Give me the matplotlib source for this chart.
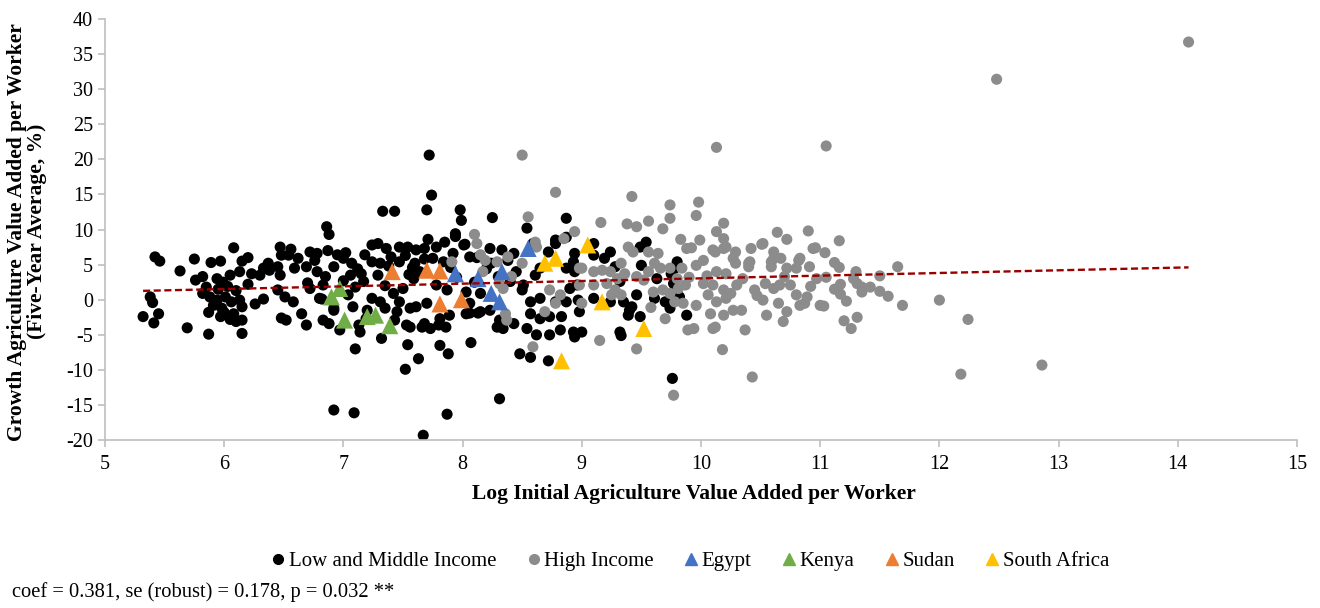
import numpy as np
import matplotlib
matplotlib.use('Agg')
import matplotlib.pyplot as plt
from matplotlib.lines import Line2D

plt.rcParams['font.family'] = ['Liberation Serif', 'DejaVu Serif']
plt.rcParams['axes.unicode_minus'] = False

# Low and middle income observations (log initial VA per worker, growth %)
lmi_x = [5.32, 5.38, 5.40, 5.45, 5.41, 5.42, 5.46, 5.63, 5.69, 5.75, 5.89, 5.97, 6.08, 6.15, 6.20,
         6.47, 6.56, 6.48, 6.54, 6.72, 6.78, 6.76, 6.86, 6.88, 6.87, 7.00,
         5.87, 5.87, 6.15, 6.10, 6.15, 6.26, 6.33, 6.48, 6.52, 6.65, 6.69, 6.83, 6.88, 6.97, 6.82, 6.92,
         5.76, 5.82, 5.94, 5.99, 6.05, 6.13, 6.23, 6.30, 6.37, 6.38, 6.33, 6.45, 6.47, 6.59,
         5.82, 5.88, 5.94, 6.01, 5.91, 5.98, 6.06, 6.13, 6.08, 6.15, 6.45, 6.51, 6.58,
         5.85, 5.95, 6.03, 6.10, 6.20, 6.00, 5.97, 6.05,
         7.07, 7.24, 7.29, 7.36, 7.47, 7.54, 7.61, 7.68,
         6.69, 6.78, 6.85, 6.92, 7.06, 7.15, 7.24, 7.31, 7.29, 7.47, 7.60, 7.59, 7.64,
         6.72, 6.83, 6.80, 6.92, 7.04, 7.08, 7.17, 7.24, 7.31, 7.42, 7.47, 7.45, 7.56, 7.61, 7.70,
         7.13, 7.19, 7.43, 7.53, 7.66, 7.14,
         7.72, 7.74, 7.33, 7.43, 7.70, 7.98, 7.99, 8.25, 8.87, 8.54, 7.94, 7.71, 8.02, 8.78, 8.87, 7.78,
         7.10, 7.32, 7.52, 7.63, 7.54, 7.81, 7.88, 8.07, 7.09, 6.92, 7.87, 7.67, 8.31, 8.48, 8.57, 8.72,
         8.62, 8.73, 8.93, 8.94, 8.43, 8.29, 8.34, 7.68, 7.73, 7.56, 7.81, 7.86, 8.06, 8.13, 9.76,
         7.85, 8.01, 7.94, 8.23, 8.33, 8.43, 7.75, 7.84, 8.06, 8.24, 8.45, 7.78, 7.87, 8.03, 8.15,
         8.06, 7.89, 8.03, 8.15, 8.23, 8.31, 8.50, 8.57, 8.65, 8.57, 8.65, 8.73, 8.78, 8.54, 7.80,
         8.51, 8.61, 8.65, 8.72, 8.78, 8.59,
         7.95, 8.10, 8.30, 8.40, 7.90, 8.20, 7.10, 7.35, 7.50, 7.55, 7.00, 7.20, 7.35,
         7.18, 7.40, 7.52, 7.12, 7.68, 7.92, 8.12, 8.38, 7.02, 6.95, 6.62, 6.70, 7.38, 7.58,
         9.10, 8.94, 8.93, 8.87, 8.94, 9.10, 9.24, 9.19, 9.28, 9.50, 9.54, 9.49, 9.80, 9.78, 9.63,
         9.32, 8.90, 8.96, 8.87, 8.97, 8.98, 9.10, 9.24, 9.35, 9.42, 9.46, 9.39, 9.49, 8.83, 9.88,
         9.61, 9.70, 9.74, 9.32, 8.82, 9.75, 9.77, 9.82, 9.40, 9.33, 9.00]
lmi_y = [-2.4, 0.4, -0.4, -2.0, -3.3, 6.1, 5.5, 4.1, -4.0, 5.8, 5.3, 5.5, 7.4, 5.5, 6.0,
         7.5, 7.2, 6.35, 6.35, 6.8, 6.6, 5.6, 10.4, 9.3, 7.0, 5.9,
         -1.8, -4.9, -4.8, -3.1, -2.9, -0.6, 0.1, -2.6, -2.9, -2.0, -3.6, -2.9, -3.4, -4.3, 0.1, -1.5,
         2.8, 3.3, 3.0, 2.5, 3.5, 4.0, 3.7, 3.5, 5.2, 4.2, 4.5, 4.7, 3.5, 4.5,
         0.9, 0.4, -0.05, 0.4, -0.8, -1.2, -0.3, -0.05, -2.0, -1.0, 1.4, 0.4, -0.3,
         1.8, 1.5, 1.9, 1.3, 2.2, -1.8, -2.4, -2.8,
         5.2, 7.8, 8.0, 7.3, 7.5, 7.5, 7.1, 7.3,
         4.7, 4.0, 3.3, 4.7, 3.5, 3.7, 5.4, 5.2, 3.5, 5.4, 5.2, 3.0, 4.0,
         1.6, 2.1, 0.2, -1.2, 0.7, -1.0, 2.6, 0.2, -0.3, 0.9, -0.3, -1.7, -1.2, -1.0, -0.5,
         -3.6, -2.7, -2.9, -3.6, -3.9, -4.6,
         20.6, 14.9, 12.6, 12.6, 12.8, 12.8, 11.3, 11.7, 11.6, 10.2, 9.4, 8.6, 7.9, 8.5, 8.9, 7.5,
         -7.0, -5.5, -9.9, -8.4, -6.4, -6.5, -7.7, -6.1, -16.1, -15.7, -16.3, -19.3, -14.1, -7.7, -8.2, -8.7,
         -5.0, -5.0, -4.6, -5.3, -3.4, -3.9, -4.1, -3.4, -4.1, -3.9, -2.7, -3.9, -1.9, -1.9, -11.2,
         8.2, 7.8, 9.0, 7.3, 7.1, 6.6, 5.9, 5.4, 6.1, 5.2, 4.0, 2.1, 1.4, 1.1, 0.9,
         -0.5, -2.2, -2.0, -1.7, -1.5, -2.9, 1.4, -0.3, 0.2, -2.0, -2.7, -2.4, -0.3, -4.1, -3.6,
         2.1, 3.5, 4.5, 6.8, 8.0, 8.0,
         3.2, 2.5, 3.3, 2.6, 4.6, 4.4, 1.8, 2.0, 1.6, 3.6, 2.7, -1.5, -1.2,
         6.4, 6.1, 6.3, 4.4, 5.8, 6.6, 6.0, 5.6, 6.7, 6.4, 5.9, 2.4, 4.8, 4.6,
         8.0, 6.6, 5.4, 4.5, 4.0, 6.35, 6.8, 5.9, 4.7, 4.9, 8.2, 7.5, 5.4, 4.5, 3.0,
         2.6, 1.6, 2.1, -0.3, -0.05, -1.7, 0.2, -0.3, -0.3, -1.0, 0.7, -2.2, -2.4, -2.4, -2.2,
         0.2, -0.3, -1.2, -4.6, -4.3, 3.7, 2.3, 0.4, -1.5, -5.1, -4.6]

# High income observations
hi_x = [8.10, 8.12, 8.55, 8.78, 8.50, 8.94, 7.91, 8.15, 8.19, 8.29, 8.38, 8.50, 8.61, 8.62, 8.41,
        8.31, 8.36, 8.37, 8.73, 8.82, 8.78, 8.98, 9.00, 8.59, 8.17, 8.34, 8.69, 8.85,
        9.42, 9.74, 9.74, 9.68, 9.98, 9.96, 9.16, 9.38, 9.46, 9.56, 10.19, 10.13, 10.19, 10.64,
        10.72, 10.90, 10.96, 11.04, 9.83, 9.99, 9.92, 10.51, 10.42, 10.10, 10.21, 10.29, 9.39,
        9.43, 9.56, 9.64, 9.96, 10.02, 10.29, 10.40, 10.61, 10.59, 10.72, 10.82,
        9.70, 9.89, 10.10, 10.37, 10.69, 9.15, 9.46, 10.18, 10.43, 9.77, 10.13, 11.05, 12.48, 14.09,
        11.16, 11.12, 11.16, 11.65, 11.05, 11.30, 11.28, 11.31, 11.50, 11.35, 11.42, 11.17, 11.12,
        11.17, 11.35, 11.50, 11.57, 11.22, 11.03, 11.69, 12.00, 12.24, 11.20, 11.31, 11.26, 12.18, 12.86,
        9.88, 9.00, 9.10, 9.17, 9.24, 9.33, 9.36, 9.46, 9.56, 9.61, 9.66, 9.74, 9.84, 9.80,
        8.98, 9.10, 9.21, 9.28, 9.33, 9.25, 9.60, 9.68, 9.74, 9.81, 9.87, 9.78, 9.85,
        10.19, 10.12, 10.27, 10.52, 10.61, 10.83, 10.94, 10.13, 10.21, 10.41, 10.40, 10.59, 10.67,
        10.80, 10.91, 10.97,
        10.02, 10.10, 10.19, 10.30, 10.45, 10.54, 10.61, 10.66, 10.75, 10.80, 10.89, 9.96, 10.06,
        10.13, 10.21, 10.27, 10.08, 10.19, 10.34, 10.52, 10.55, 10.65, 10.72, 10.83, 10.87, 10.12,
        9.94, 11.00,
        9.52, 9.90, 10.35, 10.47, 10.05, 9.30, 10.70, 10.25, 9.58, 10.92]
hi_y = [9.3, 8.0, 11.8, 15.3, 20.6, 9.7, 5.4, 6.4, 5.6, 5.4, 6.1, 5.2, 8.2, 7.5, 3.3,
        2.3, -2.0, -2.9, 1.4, 0.7, -0.5, 4.5, -0.5, -6.7, 4.0, 1.6, -1.7, 8.7,
        14.7, 13.5, 11.6, 10.1, 13.9, 12.0, 11.0, 10.8, 10.4, 11.2, 10.9, 9.7, 8.7, 9.6,
        8.6, 9.8, 7.4, 6.7, 8.6, 8.5, 7.4, 7.9, 7.3, 7.1, 7.5, 6.8, 7.5,
        6.8, 6.8, 6.6, 4.9, 5.6, 5.2, 5.2, 5.9, 4.7, 4.5, 5.6,
        -2.7, -4.3, -4.1, -4.3, -3.1, -5.8, -7.0, -7.1, -11.0, -13.6, 21.7, 21.9, 31.4, 36.7,
        8.4, 5.3, 4.6, 4.7, 3.2, 4.0, 3.0, 2.3, 3.4, 1.8, 1.8, 2.2, 1.5,
        0.8, 1.1, 1.2, 0.5, -0.2, -0.9, -0.8, -0.05, -2.8, -3.0, -2.5, -4.1, -10.6, -9.3,
        7.3, 4.5, 4.0, 4.2, 4.0, 5.2, 3.7, 3.3, 4.0, 5.2, 4.5, 4.5, 4.5, 3.0,
        2.1, 2.1, 2.3, 1.4, 0.7, 0.7, 1.1, 1.4, 0.9, 1.6, 2.1, -0.3, -0.5,
        7.3, 6.8, 5.9, 8.0, 6.8, 5.9, 7.3, 4.0, 3.7, 5.4, 4.7, 5.4, 5.9,
        4.5, 4.7, 3.0,
        2.3, 2.1, 1.4, 2.1, 1.4, 2.3, 1.6, 2.1, 2.1, 0.7, 0.4, -0.8, 0.7,
        -0.3, 0.2, -1.5, -2.0, -2.2, -1.5, -0.05, -2.2, -0.5, -1.7, -0.8, -0.5, -3.9,
        -4.1, -0.8,
        2.8, 3.2, 3.0, 0.6, 3.4, 3.0, 3.3, 0.9, -1.1, 1.9]

# Highlighted countries
egypt_x = [7.94, 8.13, 8.33, 8.24, 8.31, 8.55]
egypt_y = [3.7, 3.0, 4.0, 0.9, -0.3, 7.3]
kenya_x = [6.90, 6.97, 7.01, 7.20, 7.27, 7.39]
kenya_y = [0.4, 1.6, -2.9, -2.4, -2.2, -3.7]
sudan_x = [7.41, 7.70, 7.81, 7.81, 7.99]
sudan_y = [4.0, 4.2, 4.1, -0.6, 0.0]
safrica_x = [8.69, 8.78, 9.05, 8.83, 9.17, 9.52]
safrica_y = [5.2, 5.9, 7.8, -8.7, -0.3, -4.1]

# OLS fit reported below the chart
coef = 0.381
intercept = -0.76

BLACK = '#000000'
GRAY = '#8c8c8c'
countries = [
    ('Egypt', egypt_x, egypt_y, '#4472C4'),
    ('Kenya', kenya_x, kenya_y, '#70AD47'),
    ('Sudan', sudan_x, sudan_y, '#ED7D31'),
    ('South Africa', safrica_x, safrica_y, '#FFC000'),
]

fig = plt.figure(figsize=(13.2, 6.08), dpi=100)
ax = fig.add_axes([0.0795, 0.276, 0.9031, 0.693])

ax.scatter(lmi_x, lmi_y, s=64, color=BLACK, edgecolors='none', zorder=2)
ax.scatter(hi_x, hi_y, s=64, color=GRAY, edgecolors='none', zorder=3)
for name, xs, ys, col in countries:
    ax.scatter(xs, ys, s=150, marker='^', color=col, edgecolors='none', zorder=4)

all_x = np.array(lmi_x + hi_x)
xl = np.array([all_x.min(), all_x.max()])
ax.plot(xl, intercept + coef * xl, color='#990000', linestyle=(0, (3, 1.5)),
        linewidth=1.7, zorder=5)

ax.set_xlim(5, 15)
ax.set_ylim(-20, 40)
ax.set_xticks(np.arange(5, 16, 1))
ax.set_yticks(np.arange(-20, 41, 5))
for side in ['top', 'right']:
    ax.spines[side].set_visible(False)
for side in ['left', 'bottom']:
    ax.spines[side].set_color('#bfbfbf')
    ax.spines[side].set_linewidth(1.2)
ax.tick_params(axis='both', colors='#bfbfbf', labelcolor='black', labelsize=14.5,
               length=5, width=1.2, direction='out')
ax.tick_params(axis='x', pad=6)

ax.set_xlabel('Log Initial Agriculture Value Added per Worker', fontsize=15.5,
              fontweight='bold')
ax.xaxis.set_label_coords(0.494, -0.103)
ax.set_ylabel('Growth Agriculture Value Added per Worker\n(Five-Year Average, %)',
              fontsize=15.5, fontweight='bold', linespacing=1.0)
ax.yaxis.set_label_coords(-0.049, 0.495)

handles = [
    Line2D([], [], linestyle='none', marker='o', markersize=7, color=BLACK,
           label='Low and Middle Income'),
    Line2D([], [], linestyle='none', marker='o', markersize=7, color=GRAY,
           label='High Income'),
]
for name, xs, ys, col in countries:
    handles.append(Line2D([], [], linestyle='none', marker='^', markersize=8,
                          color=col, label=name))
fig.legend(handles=handles, loc='center', bbox_to_anchor=(0.522, 0.077), ncol=6,
           frameon=False, fontsize=15, handletextpad=0.05, columnspacing=1.35,
           handlelength=0.9)

fig.text(0.009, 0.026, 'coef = 0.381, se (robust) = 0.178, p = 0.032 **',
         fontsize=14.8, ha='left', va='center')

fig.savefig('out.png', dpi=100)
